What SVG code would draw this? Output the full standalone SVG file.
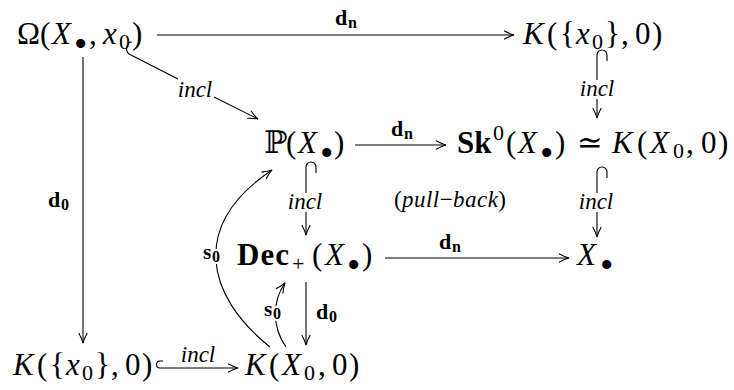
<svg xmlns="http://www.w3.org/2000/svg" width="734" height="390" viewBox="0 0 734 390">
<defs>
<style>
.m{font-family:"Liberation Serif","DejaVu Serif",serif;font-size:31px;fill:#000}
.i{font-style:italic}
.b{font-weight:bold}
.s{font-size:22px}
.bul{font-size:38px}
.ds{font-family:"DejaVu Serif","DejaVu Sans",serif}
.l{font-family:"Liberation Serif","DejaVu Serif",serif;font-size:22px;fill:#000}
.li{font-family:"Liberation Serif","DejaVu Serif",serif;font-size:23px;font-style:italic;fill:#000}
.ls{font-size:16px}
.halo{stroke:#fff;stroke-width:4px;paint-order:stroke;stroke-linejoin:round}
.e{fill:none;stroke:#000;stroke-width:1.1}
.ea{fill:none;stroke:#000;stroke-width:1.1;marker-end:url(#ah)}
</style>
<marker id="ah" markerUnits="userSpaceOnUse" markerWidth="14" markerHeight="12" viewBox="-12 -6 14 12" refX="0" refY="0" orient="auto" overflow="visible">
<path d="M-10,-4.2 Q-4,-1 0,0 Q-4,1 -10,4.2" fill="none" stroke="#000" stroke-width="1.1"/>
</marker>
</defs>
<rect width="734" height="390" fill="#fff"/>

<g id="connectors">
  <g id="e-omega-K">
    <path class="ea" d="M157,35 L514,35"/>
    <text class="l b"><tspan x="335" y="25">d</tspan><tspan class="ls" x="348" y="28">n</tspan></text>
  </g>
  <g id="e-omega-P">
    <path class="e" d="M132,42 C126,42 125,51 129,54 L178,79"/>
    <path class="ea" d="M214,97 L258,119"/>
    <text class="li" x="195" y="97" text-anchor="middle">incl</text>
  </g>
  <g id="e-K-Sk">
    <path class="e" d="M607,61 L607,55 A5,5 0 0 0 597,55 L597,80"/>
    <path class="ea" d="M597,99 L597,118"/>
    <text class="li" x="597" y="96" text-anchor="middle">incl</text>
  </g>
  <g id="e-P-Sk">
    <path class="ea" d="M355,145 L446,145"/>
    <text class="l b"><tspan x="391" y="136">d</tspan><tspan class="ls" x="404" y="139">n</tspan></text>
  </g>
  <g id="e-P-Dec">
    <path class="e" d="M316,173 L316,167 A5,5 0 0 0 306,167 L306,193"/>
    <path class="ea" d="M306,212 L306,235"/>
    <text class="li" x="305" y="209" text-anchor="middle">incl</text>
  </g>
  <g id="e-Sk-X">
    <path class="e" d="M607,178 L607,172 A5,5 0 0 0 597,172 L597,193"/>
    <path class="ea" d="M597,212 L597,237"/>
    <text class="li" x="596" y="209" text-anchor="middle">incl</text>
  </g>
  <g id="e-Dec-X">
    <path class="ea" d="M385,258 L569,258"/>
    <text class="l b"><tspan x="439" y="249">d</tspan><tspan class="ls" x="452" y="252">n</tspan></text>
  </g>
  <g id="e-omega-Kbot">
    <path class="ea" d="M83,57 L83,343"/>
    <text class="l b"><tspan x="48" y="207">d</tspan><tspan class="ls" x="61" y="210">0</tspan></text>
  </g>
  <g id="e-Dec-KX0">
    <path class="ea" d="M306,282 L306,345"/>
    <text class="l b"><tspan x="316" y="319">d</tspan><tspan class="ls" x="329" y="322">0</tspan></text>
  </g>
  <g id="e-KX0-P">
    <path class="ea" d="M270,347 C205,295 190,225 272,170"/>
    <text class="l b halo"><tspan x="203" y="259">s</tspan><tspan class="ls" x="212" y="262">0</tspan></text>
  </g>
  <g id="e-KX0-Dec">
    <path class="ea" d="M286,347 C272,327 272,302 285,283"/>
    <text class="l b halo"><tspan x="264" y="316">s</tspan><tspan class="ls" x="273" y="319">0</tspan></text>
  </g>
  <g id="e-Kbot-KX0">
    <path class="ea" d="M163,361 L160,361 A3.5,3.5 0 0 0 160,368 L238,368"/>
    <text class="li" x="198" y="362" text-anchor="middle">incl</text>
  </g>
  <g id="pullback">
    <text class="l" style="font-size:23px" x="450" y="207" text-anchor="middle" textLength="112" lengthAdjust="spacing">(<tspan class="i">pull</tspan>−<tspan class="i">back</tspan>)</text>
  </g>
</g>

<g id="n-omega">
  <text class="m"><tspan x="17" y="44">Ω(</tspan><tspan class="i" x="52" y="44">X</tspan><tspan class="bul" x="74" y="57">•</tspan><tspan x="89" y="44">,</tspan><tspan class="i" x="103" y="44">x</tspan><tspan class="s" x="119" y="49">0</tspan><tspan x="132" y="44">)</tspan></text>
</g>
<g id="n-K-top">
  <text class="m"><tspan class="i" x="523" y="44">K</tspan><tspan x="547" y="44">(</tspan><tspan x="560" y="44">{</tspan><tspan class="i" x="576" y="44">x</tspan><tspan class="s" x="592" y="49">0</tspan><tspan x="605" y="44">}</tspan><tspan x="621" y="44">,</tspan><tspan x="635" y="44">0</tspan><tspan x="652" y="44">)</tspan></text>
</g>
<g id="n-P">
  <text class="m"><tspan class="ds" x="264" y="153">ℙ</tspan><tspan x="286" y="153">(</tspan><tspan class="i" x="298" y="153">X</tspan><tspan class="bul" x="320" y="166">•</tspan><tspan x="334" y="153">)</tspan></text>
</g>
<g id="n-Sk">
  <text class="m"><tspan class="b" x="457" y="153">Sk</tspan><tspan class="s" x="493" y="140">0</tspan><tspan x="506" y="153">(</tspan><tspan class="i" x="518" y="153">X</tspan><tspan class="bul" x="540" y="166">•</tspan><tspan x="555" y="153">)</tspan><tspan class="ds" x="577" y="153">≃</tspan><tspan class="i" x="612" y="153">K</tspan><tspan x="637" y="153">(</tspan><tspan class="i" x="650" y="153">X</tspan><tspan class="s" x="673" y="158">0</tspan><tspan x="686" y="153">,</tspan><tspan x="701" y="153">0</tspan><tspan x="718" y="153">)</tspan></text>
</g>
<g id="n-Dec">
  <text class="m"><tspan class="b" x="237" y="265" letter-spacing="1">Dec</tspan><tspan class="s" x="292" y="271">+</tspan><tspan x="312" y="265">(</tspan><tspan class="i" x="325" y="265">X</tspan><tspan class="bul" x="347" y="278">•</tspan><tspan x="362" y="265">)</tspan></text>
</g>
<g id="n-X">
  <text class="m"><tspan class="i" x="577" y="265">X</tspan><tspan class="bul" x="600" y="278">•</tspan></text>
</g>
<g id="n-K-bot">
  <text class="m"><tspan class="i" x="13" y="375">K</tspan><tspan x="37" y="375">(</tspan><tspan x="50" y="375">{</tspan><tspan class="i" x="66" y="375">x</tspan><tspan class="s" x="82" y="380">0</tspan><tspan x="95" y="375">}</tspan><tspan x="111" y="375">,</tspan><tspan x="125" y="375">0</tspan><tspan x="142" y="375">)</tspan></text>
</g>
<g id="n-KX0">
  <text class="m"><tspan class="i" x="245" y="375">K</tspan><tspan x="269" y="375">(</tspan><tspan class="i" x="282" y="375">X</tspan><tspan class="s" x="304" y="380">0</tspan><tspan x="318" y="375">,</tspan><tspan x="332" y="375">0</tspan><tspan x="349" y="375">)</tspan></text>
</g>
</svg>
